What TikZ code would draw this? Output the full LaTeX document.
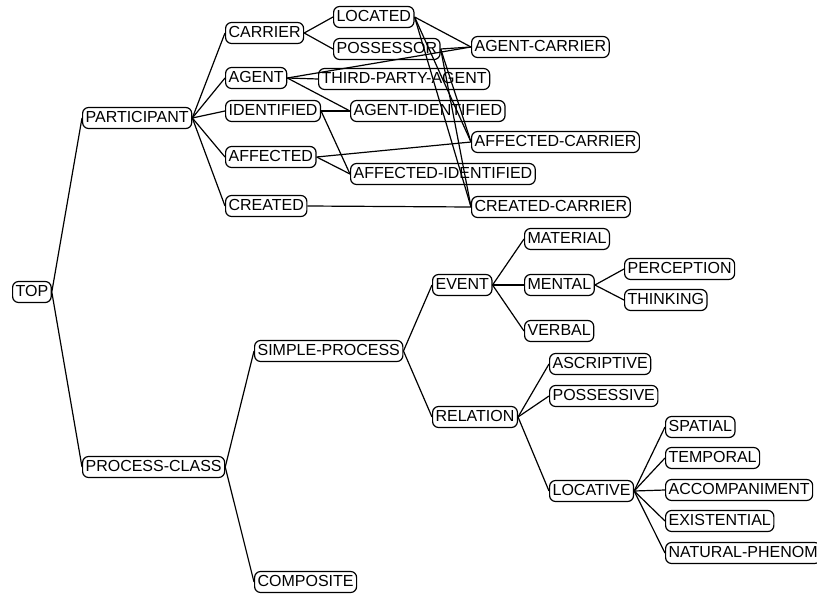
\documentclass[tikz,border=0pt]{standalone}
\usepackage{fontspec}
\setmainfont{Liberation Sans}
\begin{document}
\begin{tikzpicture}[x=1pt,y=-1pt,
  tnode/.style={draw, rounded corners=6pt, line width=1.2pt, anchor=west,
    inner xsep=3pt, inner ysep=0pt, minimum height=21pt,
    font=\fontsize{16}{18}\selectfont, text height=11.5pt, text depth=3pt},
  link/.style={line width=1.2pt}]
\useasboundingbox (0,0) rectangle (817,597);
\clip (0,0) rectangle (817,597);
% root
\node[tnode] (top) at (12,292) {TOP};
% first level
\node[tnode] (participant) at (82,118) {PARTICIPANT};
\node[tnode] (processclass) at (82,467) {PROCESS-CLASS};
% participant branch
\node[tnode] (carrier) at (225,33) {CARRIER};
\node[tnode] (agent) at (225,78) {AGENT};
\node[tnode] (identified) at (225,111) {IDENTIFIED};
\node[tnode] (affected) at (225,157) {AFFECTED};
\node[tnode] (created) at (225,206) {CREATED};
\node[tnode] (located) at (333,17) {LOCATED};
\node[tnode] (possessor) at (333,49) {POSSESSOR};
\node[tnode] (thirdparty) at (318,79) {THIRD-PARTY-AGENT};
\node[tnode] (agentid) at (350,111) {AGENT-IDENTIFIED};
\node[tnode] (affectedid) at (350,174) {AFFECTED-IDENTIFIED};
\node[tnode] (agentcar) at (471,47) {AGENT-CARRIER};
\node[tnode] (affectedcar) at (471,142) {AFFECTED-CARRIER};
\node[tnode] (createdcar) at (471,207) {CREATED-CARRIER};
% process branch
\node[tnode] (simple) at (254,351) {SIMPLE-PROCESS};
\node[tnode] (composite) at (254,582) {COMPOSITE};
\node[tnode] (event) at (432,285) {EVENT};
\node[tnode] (relation) at (432,417) {RELATION};
\node[tnode] (material) at (524,239) {MATERIAL};
\node[tnode] (mental) at (524,285) {MENTAL};
\node[tnode] (verbal) at (524,331) {VERBAL};
\node[tnode] (perception) at (624,269) {PERCEPTION};
\node[tnode] (thinking) at (624,300) {THINKING};
\node[tnode] (ascriptive) at (549,364) {ASCRIPTIVE};
\node[tnode] (possessive) at (549,396) {POSSESSIVE};
\node[tnode] (locative) at (549,491) {LOCATIVE};
\node[tnode] (spatial) at (665,427) {SPATIAL};
\node[tnode] (temporal) at (665,458) {TEMPORAL};
\node[tnode] (accomp) at (665,490) {ACCOMPANIMENT};
\node[tnode] (existential) at (665,521) {EXISTENTIAL};
\node[tnode] (natural) at (665,553) {NATURAL-PHENOM};
% connectors: parent east to child west
\foreach \p/\c in {top/participant, top/processclass,
  participant/carrier, participant/agent, participant/identified,
  participant/affected, participant/created,
  carrier/located, carrier/possessor,
  located/agentcar, located/affectedcar, located/createdcar,
  possessor/agentcar, possessor/affectedcar, possessor/createdcar,
  agent/agentcar, agent/thirdparty, agent/agentid,
  identified/agentid, identified/affectedid,
  affected/affectedcar, affected/affectedid,
  created/createdcar,
  processclass/simple, processclass/composite,
  simple/event, simple/relation,
  event/material, event/mental, event/verbal,
  mental/perception, mental/thinking,
  relation/ascriptive, relation/possessive, relation/locative,
  locative/spatial, locative/temporal, locative/accomp,
  locative/existential, locative/natural}
  \draw[link] (\p.east) -- (\c.west);
\end{tikzpicture}
\end{document}
